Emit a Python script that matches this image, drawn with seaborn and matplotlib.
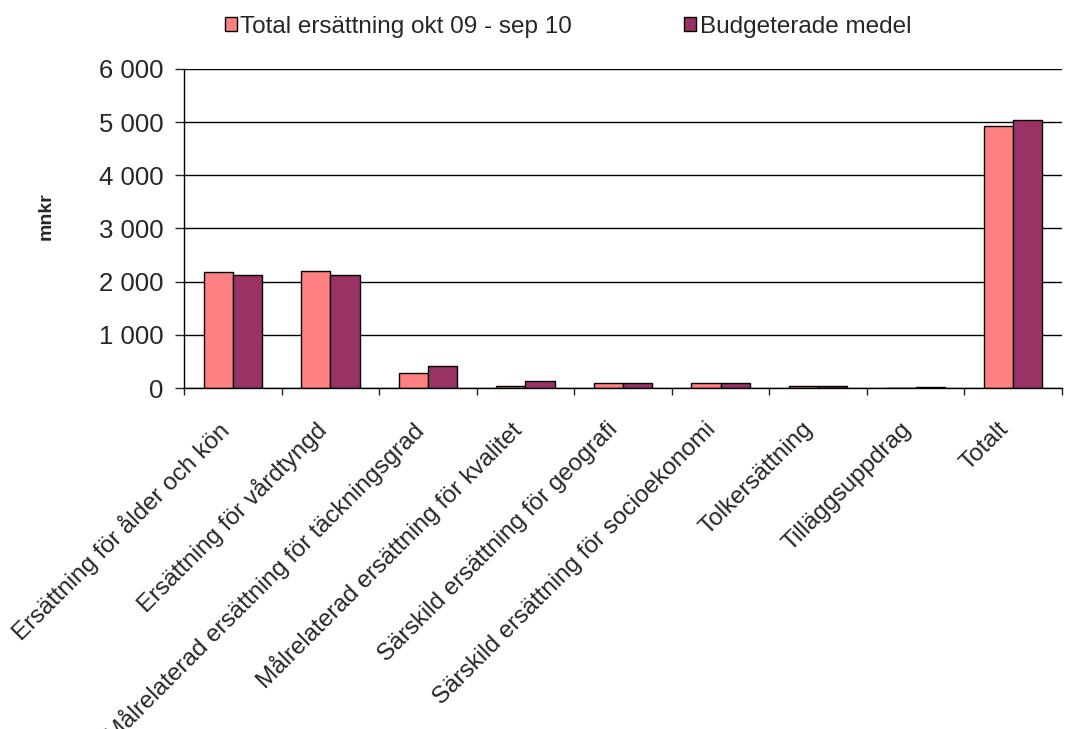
import matplotlib
matplotlib.use("Agg")
import matplotlib.pyplot as plt
import matplotlib.transforms as mtransforms
import seaborn as sns
import pandas as pd
import numpy as np
from matplotlib.ticker import FuncFormatter, FixedLocator

categories = [
    "Ersättning för ålder och kön",
    "Ersättning för vårdtyngd",
    "Målrelaterad ersättning för täckningsgrad",
    "Målrelaterad ersättning för kvalitet",
    "Särskild ersättning för geografi",
    "Särskild ersättning för socioekonomi",
    "Tolkersättning",
    "Tilläggsuppdrag",
    "Totalt",
]
series_names = ["Total ersättning okt 09 - sep 10", "Budgeterade medel"]
total_ersattning = [2190, 2200, 276, 40, 95, 95, 30, 3, 4920]
budgeterade = [2120, 2125, 405, 135, 95, 95, 35, 20, 5050]
y_ticks = [0, 1000, 2000, 3000, 4000, 5000, 6000]
colors = ["#FF8080", "#993366"]

df = pd.DataFrame({
    "Kategori": categories * 2,
    "Serie": [series_names[0]] * len(categories) + [series_names[1]] * len(categories),
    "Värde": total_ersattning + budgeterade,
})

sns.set_style("white")
plt.rcParams["font.family"] = ["Liberation Sans", "DejaVu Sans"]

fig = plt.figure(figsize=(10.78, 7.29), dpi=100)
ax = fig.add_axes([184/1078, 1 - 388/729, (1062-184)/1078, (388-69)/729])

sns.barplot(data=df, x="Kategori", y="Värde", hue="Serie", order=categories,
            hue_order=series_names, palette=colors, width=0.6, dodge=True,
            edgecolor="black", linewidth=1.0, saturation=1, ax=ax, errorbar=None)

ax.set_ylim(0, 6000)
ax.set_xlim(-0.5, len(categories) - 0.5)
ax.set_yticks(y_ticks)
ax.yaxis.set_major_formatter(FuncFormatter(lambda v, p: f"{int(v):,}".replace(",", " ")))
ax.tick_params(axis="y", labelsize=18.5, length=6.5, width=1, direction="out", left=True, pad=8)
ax.grid(axis="y", color="black", linewidth=1)
ax.set_axisbelow(True)

for s in ["top", "right"]:
    ax.spines[s].set_visible(False)
for s in ["left", "bottom"]:
    ax.spines[s].set_color("black")
    ax.spines[s].set_linewidth(1)

ax.set_xticks(range(len(categories)))
ax.set_xticklabels(categories, rotation=45, ha="right", rotation_mode="anchor", fontsize=17.5)
ax.tick_params(axis="x", which="major", length=0, pad=10)
ax.xaxis.set_minor_locator(FixedLocator(np.arange(-0.5, len(categories), 1.0)))
ax.tick_params(axis="x", which="minor", length=5, width=1, direction="out", bottom=True)
offset = mtransforms.ScaledTranslation(-16 / 100, -16 / 100, fig.dpi_scale_trans)
for lbl in ax.get_xticklabels():
    lbl.set_transform(lbl.get_transform() + offset)

ax.set_xlabel("")
ax.set_ylabel("mnkr", fontsize=14, fontweight="bold")
ax.yaxis.set_label_coords((55 - 184) / 878, (388 - 216) / 319)

handles, labels = ax.get_legend_handles_labels()
ax.legend(handles, labels, loc="center", bbox_to_anchor=((568 - 184) / 878, (388 - 27) / 319),
          ncol=2, frameon=False, fontsize=17.5, handlelength=0.5, handleheight=0.5,
          handletextpad=0.15, columnspacing=4.6)

fig.savefig("out.png", dpi=100)
